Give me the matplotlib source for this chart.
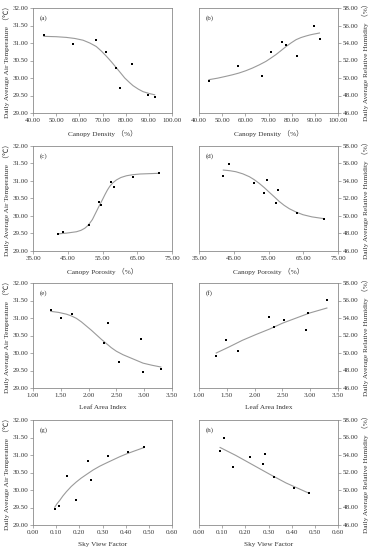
import matplotlib
matplotlib.use('Agg')
import matplotlib.pyplot as plt
from matplotlib.ticker import FormatStrFormatter

plt.rcParams['font.family'] = ['Liberation Serif', 'Noto Sans CJK SC', 'DejaVu Sans']

# --- data (9 sites) ---
density_t = [44.7, 57.4, 67.3, 71.4, 76.0, 77.7, 82.6, 89.8, 92.5]
temp_a = [31.22, 30.98, 31.10, 30.73, 30.29, 29.71, 30.39, 29.52, 29.45]
fit_a_x = [44.7, 50.0, 54.4, 58.0, 61.6, 64.5, 67.3, 69.5, 71.7, 74.0, 76.0, 78.0, 79.6, 81.5, 83.2, 85.5, 87.5, 90.0, 92.5]
fit_a_y = [31.19, 31.18, 31.16, 31.13, 31.08, 31.00, 30.90, 30.77, 30.62, 30.45, 30.29, 30.13, 30.00, 29.88, 29.78, 29.68, 29.61, 29.56, 29.52]

density_h = [44.3, 56.9, 67.2, 71.2, 75.8, 77.4, 82.3, 89.6, 92.2]
hum_b = [49.62, 51.41, 50.19, 52.93, 54.08, 53.73, 52.55, 55.98, 54.50]
fit_b_x = [44.3, 48.0, 51.6, 54.5, 57.3, 60.2, 63.1, 66.0, 68.9, 71.0, 73.2, 75.4, 77.6, 79.8, 81.9, 84.0, 86.2, 88.0, 89.6, 92.0]
fit_b_y = [49.81, 49.98, 50.19, 50.37, 50.57, 50.83, 51.14, 51.50, 51.90, 52.27, 52.67, 53.13, 53.60, 54.02, 54.38, 54.62, 54.80, 54.93, 55.02, 55.14]

porosity_t = [42.2, 43.7, 51.2, 53.9, 54.7, 57.4, 58.2, 63.7, 71.2]
temp_c = [29.49, 29.55, 29.75, 30.41, 30.30, 30.98, 30.84, 31.10, 31.24]
fit_c_x = [42.2, 44.6, 47.5, 48.8, 49.9, 50.6, 51.3, 52.1, 52.8, 53.5, 54.2, 55.0, 55.7, 56.4, 57.1, 58.0, 59.0, 60.3, 61.9, 63.7, 65.8, 71.2]
fit_c_y = [29.49, 29.51, 29.55, 29.59, 29.65, 29.71, 29.79, 29.90, 30.04, 30.18, 30.32, 30.47, 30.61, 30.74, 30.85, 30.95, 31.03, 31.10, 31.15, 31.18, 31.20, 31.22]

porosity_h = [42.0, 43.5, 50.9, 53.7, 54.6, 57.2, 57.8, 63.2, 70.9]
hum_d = [54.53, 55.96, 53.81, 52.60, 54.15, 51.47, 53.02, 50.30, 49.70]
fit_d_x = [42.0, 43.8, 45.6, 47.6, 49.5, 50.9, 52.3, 53.8, 55.2, 56.7, 58.1, 59.5, 61.0, 62.9, 64.9, 67.5, 70.9]
fit_d_y = [55.25, 55.18, 55.06, 54.82, 54.49, 54.15, 53.74, 53.24, 52.72, 52.18, 51.66, 51.22, 50.83, 50.46, 50.15, 49.90, 49.70]

lai_t = [1.32, 1.50, 1.71, 2.35, 2.27, 2.54, 2.94, 2.97, 3.30]
temp_e = [31.24, 30.99, 31.11, 30.85, 30.30, 29.73, 30.40, 29.47, 29.54]
fit_e_x = [1.32, 1.46, 1.60, 1.69, 1.78, 1.87, 1.96, 2.05, 2.14, 2.23, 2.32, 2.41, 2.50, 2.62, 2.74, 2.86, 2.98, 3.14, 3.30]
fit_e_y = [31.19, 31.16, 31.11, 31.06, 30.99, 30.89, 30.77, 30.65, 30.52, 30.39, 30.27, 30.15, 30.05, 29.95, 29.87, 29.79, 29.71, 29.65, 29.60]

lai_h = [1.31, 1.49, 1.70, 2.25, 2.34, 2.53, 2.92, 2.96, 3.30]
hum_f = [49.70, 51.45, 50.27, 54.11, 52.97, 53.81, 52.59, 54.57, 56.02]
fit_f_x = [1.31, 1.54, 1.78, 2.02, 2.27, 2.51, 2.75, 2.99, 3.30]
fit_f_y = [50.00, 50.69, 51.45, 52.10, 52.74, 53.43, 54.00, 54.57, 55.14]

svf_t = [0.094, 0.112, 0.148, 0.186, 0.237, 0.249, 0.324, 0.412, 0.478]
temp_g = [29.46, 29.53, 30.39, 29.72, 30.84, 30.28, 30.98, 31.10, 31.22]
fit_g_x = [0.094, 0.104, 0.115, 0.129, 0.144, 0.165, 0.187, 0.208, 0.230, 0.259, 0.288, 0.316, 0.345, 0.374, 0.403, 0.440, 0.478]
fit_g_y = [29.51, 29.61, 29.70, 29.83, 29.95, 30.10, 30.23, 30.34, 30.44, 30.57, 30.68, 30.77, 30.86, 30.95, 31.03, 31.12, 31.21]

svf_h = [0.091, 0.108, 0.145, 0.221, 0.277, 0.286, 0.322, 0.412, 0.475]
hum_h = [54.48, 55.95, 52.58, 53.76, 52.92, 54.10, 51.45, 50.20, 49.63]
fit_h_x = [0.091, 0.159, 0.231, 0.303, 0.376, 0.475]
fit_h_y = [54.86, 53.95, 52.89, 51.83, 50.80, 49.63]

t_ticks = [29.0, 29.5, 30.0, 30.5, 31.0, 31.5, 32.0]
h_ticks = [46, 48, 50, 52, 54, 56, 58]

panels = [
    ('(a)', density_t, temp_a, fit_a_x, fit_a_y, (40, 100, 10), 'Canopy Density （%）', 'T'),
    ('(b)', density_h, hum_b, fit_b_x, fit_b_y, (40, 100, 10), 'Canopy Density （%）', 'H'),
    ('(c)', porosity_t, temp_c, fit_c_x, fit_c_y, (35, 75, 10), 'Canopy Porosity （%）', 'T'),
    ('(d)', porosity_h, hum_d, fit_d_x, fit_d_y, (35, 75, 10), 'Canopy Porosity （%）', 'H'),
    ('(e)', lai_t, temp_e, fit_e_x, fit_e_y, (1.0, 3.5, 0.5), 'Leaf Area Index', 'T'),
    ('(f)', lai_h, hum_f, fit_f_x, fit_f_y, (1.0, 3.5, 0.5), 'Leaf Area Index', 'H'),
    ('(g)', svf_t, temp_g, fit_g_x, fit_g_y, (0.0, 0.6, 0.1), 'Sky View Factor', 'T'),
    ('(h)', svf_h, hum_h, fit_h_x, fit_h_y, (0.0, 0.6, 0.1), 'Sky View Factor', 'H'),
]

W, H = 372, 550
fig = plt.figure(figsize=(W / 100, H / 100), dpi=100)
fig.patch.set_facecolor('white')

col_left = [33, 199]
ax_w = 139
row_top = [8, 146, 283, 420]
ax_h = 105

spine_col = '#8a8a8a'
txt_col = '#333333'

for i, (tag, xs, ys, fx, fy, (x0, x1, dx), xlab, kind) in enumerate(panels):
    r, c = divmod(i, 2)
    left = col_left[c] / W
    bottom = 1 - (row_top[r] + ax_h) / H
    ax = fig.add_axes([left, bottom, ax_w / W, ax_h / H])

    ax.plot(fx, fy, color='#9a9a9a', lw=0.8, zorder=2)
    ax.scatter(xs, ys, marker='s', s=3.2, color='black', zorder=3, linewidths=0)

    nt = int(round((x1 - x0) / dx))
    ax.set_xlim(x0, x1)
    ax.set_xticks([x0 + k * dx for k in range(nt + 1)])
    ax.xaxis.set_major_formatter(FormatStrFormatter('%.2f'))

    if kind == 'T':
        ax.set_ylim(29, 32)
        ax.set_yticks(t_ticks)
        ax.set_ylabel('Daily Average Air Temperature （℃）', fontsize=5.2, color=txt_col, labelpad=2)
    else:
        ax.set_ylim(46, 58)
        ax.set_yticks(h_ticks)
        ax.yaxis.tick_right()
        ax.yaxis.set_label_position('right')
        ax.set_ylabel('Daily Average Relative Humidity （%）', fontsize=5.2, color=txt_col,
                      labelpad=2, rotation=90)
    ax.yaxis.set_major_formatter(FormatStrFormatter('%.2f'))

    ax.set_xlabel(xlab, fontsize=5.2, color=txt_col, labelpad=5)
    ax.tick_params(labelsize=5, colors=txt_col, length=2, width=0.5, pad=1.5,
                   color=spine_col)
    for s in ax.spines.values():
        s.set_color(spine_col)
        s.set_linewidth(0.6)

    ax.text(0.045, 0.93, tag, transform=ax.transAxes, fontsize=5, color=txt_col,
            va='top', ha='left')

fig.savefig('out.png', dpi=100, facecolor='white')
